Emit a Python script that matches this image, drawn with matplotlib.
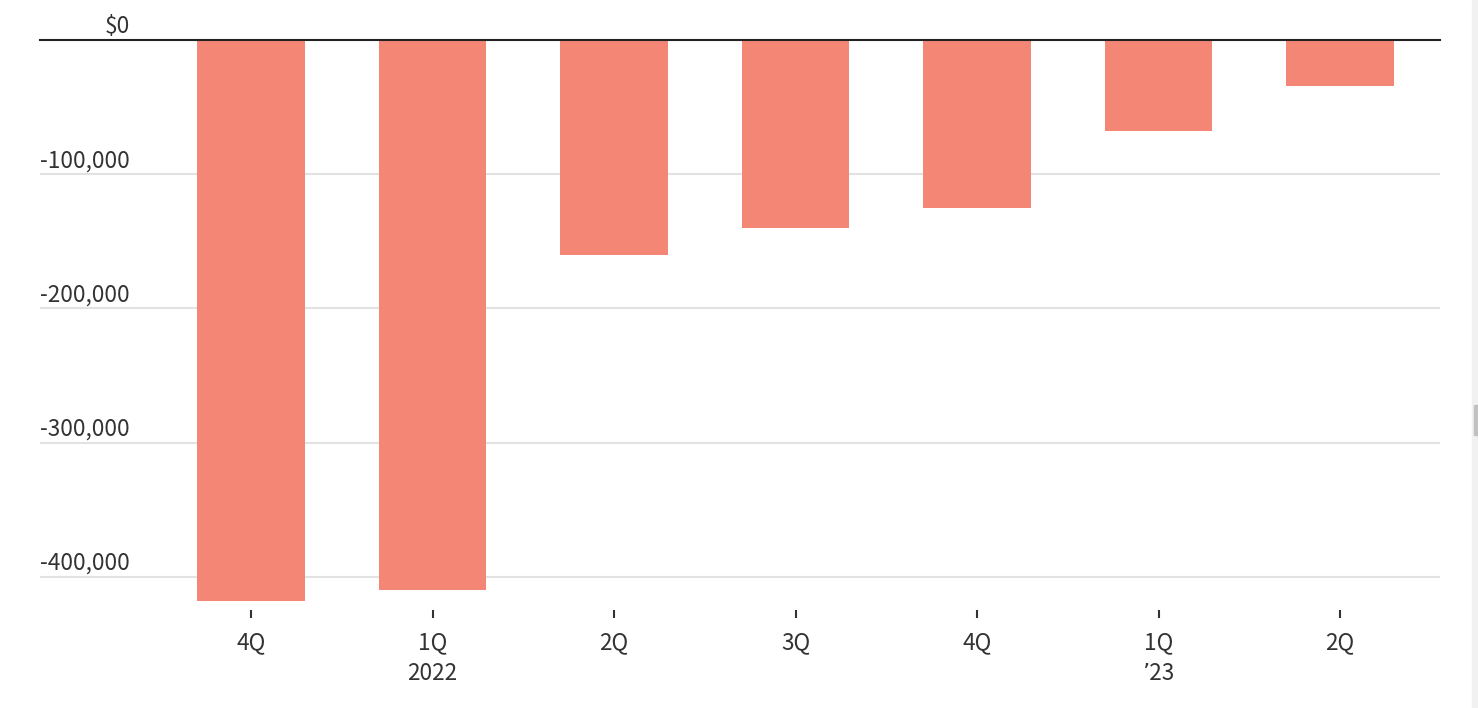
import matplotlib
matplotlib.use('Agg')
import matplotlib.pyplot as plt
import matplotlib.transforms as mtransforms
from matplotlib.patches import Rectangle

# quarterly values (USD)
quarters = ['4Q', '1Q\n2022', '2Q', '3Q', '4Q', '1Q\n\u02bc23', '2Q']
values = [-418000, -410000, -160000, -140000, -125000, -68000, -34000]
ytick_vals = [0, -100000, -200000, -300000, -400000]
ytick_labels = ['$0', '-100,000', '-200,000', '-300,000', '-400,000']

plt.rcParams['font.family'] = ['Noto Sans CJK SC', 'DejaVu Sans']
W, H = 1478, 708
fig = plt.figure(figsize=(W / 100, H / 100), dpi=100)

# axes placed in pixel terms: left 40, right 1440, top 40 (zero line), bottom 610
ax = fig.add_axes([40 / W, 1 - 610 / H, 1400 / W, 570 / H])
px_per_100k = 134.25
ax.set_ylim(-570 / px_per_100k * 1e5, 0)
ax.set_xlim(-211 / 181.5, 6 + 100 / 181.5)

x = list(range(len(values)))
ax.bar(x, values, width=0.595, color='#f48676', zorder=2)

for v in ytick_vals[1:]:
    ax.axhline(v, color='#e2e2e2', lw=1.5, zorder=1)
ax.axhline(0, color='#222222', lw=1.5, zorder=3, clip_on=False)

trans = mtransforms.blended_transform_factory(ax.transAxes, ax.transData)
for v, lab in zip(ytick_vals, ytick_labels):
    ax.text(90 / 1400, v + 2 / px_per_100k * 1e5, lab, transform=trans,
            ha='right', va='bottom', fontsize=16.3, color='#333333')

for s in ax.spines.values():
    s.set_visible(False)
ax.set_yticks([])
ax.set_xticks(x)
ax.set_xticklabels(quarters, fontsize=16.3, color='#333333', linespacing=1.45)
ax.tick_params(axis='x', direction='out', length=6, width=1.5,
               color='#333333', pad=9)

# scrollbar strip at right edge
fig.patches.append(Rectangle((1472 / W, 0), 6 / W, 1, transform=fig.transFigure,
                             color='#f1f1f1', zorder=0))
fig.patches.append(Rectangle((1474 / W, 1 - 435 / H), 4 / W, 30 / H,
                             transform=fig.transFigure, color='#c1c1c1', zorder=1))

fig.savefig('out.png', dpi=100)
